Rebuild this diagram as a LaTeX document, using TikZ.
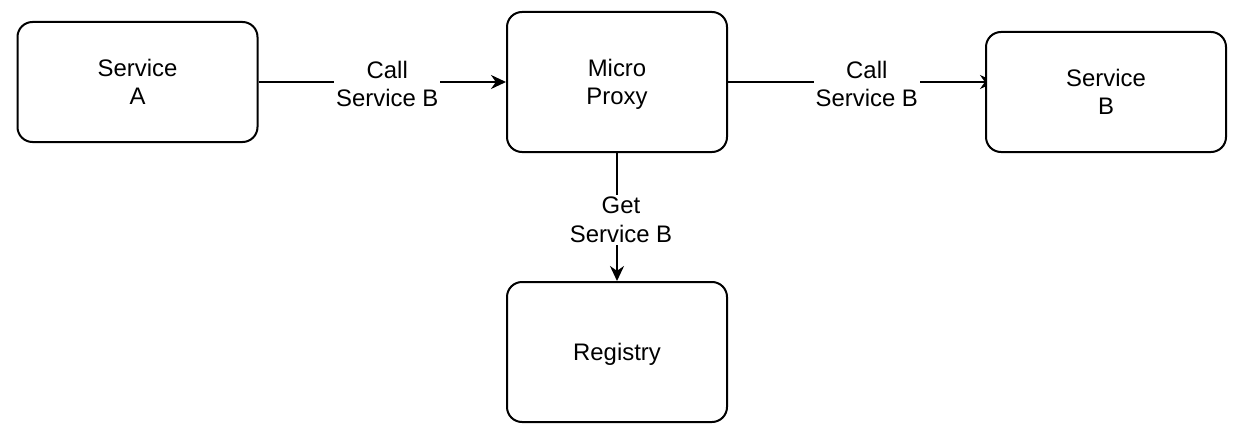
\documentclass[tikz,border=0pt]{standalone}
\usepackage{fontspec}
\setmainfont{Liberation Sans}
\usetikzlibrary{arrows.meta,backgrounds}
\tikzset{
	box/.style={draw=black, fill=white, line width=0.04cm, rounded corners=0.3cm, align=center, text depth=0pt, font=\fontsize{13.6}{16.3}\selectfont},
	lbl/.style={fill=white, align=center, inner sep=1pt, font=\fontsize{13.6}{16.3}\selectfont},
	conn/.style={black, line width=0.04cm, -{Stealth[length=0.3cm, width=0.28cm]}}
}
\begin{document}
\begin{tikzpicture}
\useasboundingbox (0,0) rectangle (24.92,-8.72);
\node[box, minimum width=4.8cm, minimum height=2.4cm](srva) at (2.75,-1.64){Service\\A};
\node[box, minimum width=4.4cm, minimum height=2.8cm](proxy) at (12.34,-1.64){Micro\\Proxy};
\node[box, minimum width=4.8cm, minimum height=2.4cm](srvb) at (22.12,-1.84){Service\\B};
\node[box, minimum width=4.4cm, minimum height=2.8cm](reg) at (12.34,-7.04){Registry};
\draw[conn](srva.east)--(proxy.west)node[lbl, midway, xshift=0.1cm, yshift=-0.04cm]{Call\\Service B};
\begin{pgfonlayer}{background}
\draw[conn, shorten >=-0.2cm](proxy.east)--(srvb.west |- proxy.east)node[lbl, pos=0.54, yshift=-0.04cm]{Call\\Service B};
\end{pgfonlayer}
\draw[conn](proxy.south)--(reg.north)node[lbl, midway, xshift=0.08cm, yshift=-0.06cm]{Get\\Service B};
\end{tikzpicture}
\end{document}
